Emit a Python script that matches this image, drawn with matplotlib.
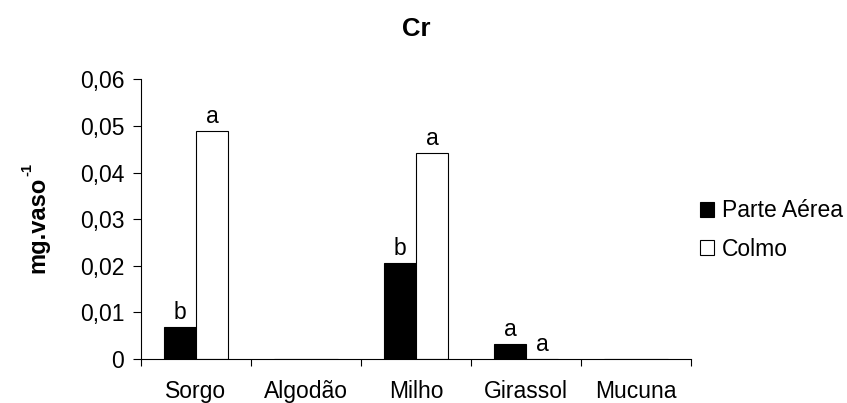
import matplotlib
matplotlib.use("Agg")
import matplotlib.pyplot as plt
import numpy as np
from matplotlib.patches import Patch

plt.rcParams['font.family'] = ['Liberation Sans', 'DejaVu Sans']

categories = ["Sorgo", "Algodão", "Milho", "Girassol", "Mucuna"]
parte_aerea = [0.0069, 0.0, 0.0207, 0.0032, 0.0]
colmo = [0.049, 0.0, 0.0443, 0.0, 0.0]
letters_pa = ["b", "", "b", "a", ""]
letters_colmo = ["a", "", "a", "a", ""]
yticks = [0, 0.01, 0.02, 0.03, 0.04, 0.05, 0.06]
ytick_labels = ["0", "0,01", "0,02", "0,03", "0,04", "0,05", "0,06"]

fig = plt.figure(figsize=(8.47, 4.03), dpi=100)
ax = fig.add_axes([141/847, 1-359/403, 550/847, (359-79.5)/403])

x = np.arange(len(categories))
w = 0.29
ax.bar(x - w/2, parte_aerea, w, color="black", edgecolor="black", linewidth=0.8)
ax.bar(x + w/2, colmo, w, color="white", edgecolor="black", linewidth=0.8)

fs = 16.5
for i in range(len(categories)):
    if letters_pa[i]:
        ax.annotate(letters_pa[i], (x[i] - w/2, parte_aerea[i]), xytext=(0, 2),
                    textcoords="offset points", ha="center", va="bottom", fontsize=fs)
    if letters_colmo[i]:
        ax.annotate(letters_colmo[i], (x[i] + w/2, colmo[i]), xytext=(0, 2),
                    textcoords="offset points", ha="center", va="bottom", fontsize=fs)

ax.set_xlim(-0.5, len(categories) - 0.5)
ax.set_ylim(0, 0.06)
ax.set_yticks(yticks)
ax.set_yticklabels(ytick_labels, fontsize=fs)
ax.set_xticks(x)
ax.set_xticklabels(categories, fontsize=fs)
ax.set_xticks(np.arange(-0.5, len(categories)), minor=True)
ax.tick_params(axis="x", which="major", length=0, pad=15)
ax.tick_params(axis="x", which="minor", length=5, width=0.8, direction="out")
ax.tick_params(axis="y", length=6, width=0.8, direction="out", pad=6)
for s in ["top", "right"]:
    ax.spines[s].set_visible(False)
for s in ["left", "bottom"]:
    ax.spines[s].set_linewidth(0.8)

ax.set_title("Cr", fontsize=18.5, fontweight="bold", pad=31)

# y-axis label with small superscript
main = fig.text(49/847, 1-273/403, "mg.vaso", rotation=90, ha="right", va="bottom",
                fontsize=17, fontweight="bold")
fig.canvas.draw()
bb = main.get_window_extent()
fig.text(34/847, (bb.y1 + 1) / fig.bbox.height, "-1", rotation=90, ha="right", va="bottom",
         fontsize=10.5, fontweight="bold")

handles = [Patch(facecolor="black", edgecolor="black", linewidth=0.8),
           Patch(facecolor="white", edgecolor="black", linewidth=0.8)]
fig.legend(handles, ["Parte Aérea", "Colmo"], loc="center left",
           bbox_to_anchor=(679/847, 1-230/403), frameon=False, fontsize=fs,
           handlelength=0.62, handleheight=0.62, handletextpad=0.35, labelspacing=0.66)

fig.savefig("out.png", dpi=100)
